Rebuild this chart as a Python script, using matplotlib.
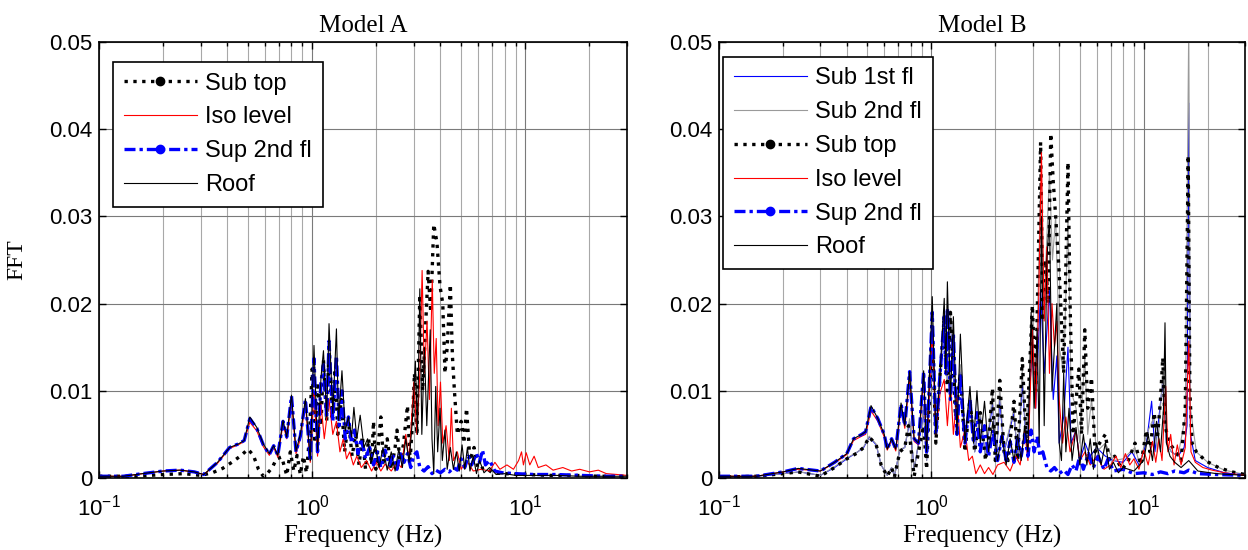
import numpy as np
import matplotlib.pyplot as plt
from matplotlib.lines import Line2D

# ---------------- Model A ----------------
freq_a_subtop = [0.1, 0.15, 0.2, 0.25, 0.3, 0.34, 0.38, 0.42, 0.46, 0.5,
                 0.53, 0.56, 0.59, 0.62, 0.65, 0.68, 0.72, 0.76, 0.79, 0.82,
                 0.85, 0.88, 0.91, 0.94, 0.97, 1.0, 1.03, 1.06, 1.1, 1.13,
                 1.17, 1.2, 1.24, 1.28, 1.32, 1.37, 1.42, 1.48, 1.54, 1.6,
                 1.66, 1.72, 1.78, 1.84, 1.9, 1.94, 1.99, 2.05, 2.1, 2.16,
                 2.25, 2.35, 2.45, 2.5, 2.58, 2.68, 2.8, 2.88, 2.95, 3.02,
                 3.1, 3.2, 3.3, 3.4, 3.5, 3.6, 3.72, 3.85, 3.98, 4.1,
                 4.2, 4.3, 4.45, 4.55, 4.65, 4.8, 5.0, 5.15, 5.3, 5.5,
                 5.75, 6.0, 6.5, 7.0, 8.0, 10, 13, 17, 22, 30]
fft_a_subtop = [0.0002, 0.0002, 0.0004, 0.0005, 0.0003, 0.0006, 0.0011, 0.0018, 0.0025, 0.0033,
                0.0026, 0.001, 0.0002, 0.0006, 0.0012, 0.0022, 0.0024, 0.0003, 0.003, 0.0008,
                0.0026, 0.0004, 0.0025, 0.0006, 0.0045, 0.0125, 0.004, 0.011, 0.006, 0.0135,
                0.0065, 0.015, 0.007, 0.0125, 0.005, 0.009, 0.003, 0.0065, 0.0025, 0.005,
                0.0015, 0.0048, 0.001, 0.0045, 0.0015, 0.0065, 0.001, 0.0042, 0.007, 0.0018,
                0.0045, 0.001, 0.0035, 0.0055, 0.002, 0.0038, 0.0083, 0.002, 0.006, 0.012,
                0.005, 0.021, 0.01, 0.017, 0.0237, 0.019, 0.0291, 0.027, 0.022, 0.02,
                0.012, 0.015, 0.0222, 0.014, 0.01, 0.005, 0.0065, 0.004, 0.008, 0.002,
                0.0035, 0.001, 0.0012, 0.0006, 0.0005, 0.0004, 0.0003, 0.0003, 0.0002, 0.0002]

freq_a_iso = [0.1, 0.13, 0.16, 0.2, 0.24, 0.28, 0.31, 0.36, 0.41, 0.45,
              0.48, 0.51, 0.55, 0.59, 0.63, 0.66, 0.69, 0.73, 0.76, 0.8,
              0.84, 0.88, 0.93, 0.98, 1.02, 1.06, 1.1, 1.14, 1.2, 1.25,
              1.3, 1.35, 1.4, 1.45, 1.5, 1.56, 1.62, 1.7, 1.8, 1.9,
              2.0, 2.1, 2.2, 2.35, 2.5, 2.62, 2.75, 2.85, 3.0, 3.1,
              3.2, 3.28, 3.36, 3.46, 3.55, 3.66, 3.74, 3.82, 3.9, 4.0,
              4.1, 4.25, 4.4, 4.5, 4.6, 4.8, 5.0, 5.3, 5.7, 6.2,
              6.8, 7.2, 7.6, 8.2, 8.8, 9.3, 9.6, 9.8, 10.1, 10.5,
              11, 11.5, 12.5, 13.5, 15, 16.5, 18, 20, 22, 24,
              27, 30]
fft_a_iso = [0.0002, 0.0002, 0.0005, 0.0008, 0.0009, 0.0007, 0.0004, 0.0017, 0.0034, 0.0038,
             0.0042, 0.0064, 0.0054, 0.0036, 0.0026, 0.0035, 0.0024, 0.0062, 0.0045, 0.0088,
             0.0028, 0.0045, 0.0085, 0.0018, 0.01, 0.0025, 0.0085, 0.0045, 0.009, 0.005,
             0.0065, 0.003, 0.0045, 0.0022, 0.003, 0.0015, 0.0025, 0.0012, 0.002, 0.0008,
             0.0018, 0.0008, 0.0016, 0.0008, 0.0018, 0.0012, 0.005, 0.002, 0.011, 0.005,
             0.012, 0.0238, 0.012, 0.018, 0.009, 0.0227, 0.012, 0.016, 0.006, 0.011,
             0.004, 0.006, 0.002, 0.008, 0.002, 0.003, 0.001, 0.002, 0.0008, 0.001,
             0.0008, 0.0018, 0.001, 0.0015, 0.001, 0.002, 0.003, 0.0015, 0.0029, 0.0015,
             0.0025, 0.0012, 0.0015, 0.0009, 0.0012, 0.0008, 0.001, 0.0007, 0.0009, 0.0005,
             0.0004, 0.0003]

freq_a_sup2 = [0.1, 0.13, 0.16, 0.2, 0.24, 0.28, 0.31, 0.36, 0.41, 0.45,
               0.48, 0.51, 0.55, 0.59, 0.63, 0.66, 0.69, 0.73, 0.76, 0.8,
               0.84, 0.88, 0.93, 0.98, 1.02, 1.06, 1.1, 1.13, 1.17, 1.2,
               1.25, 1.3, 1.34, 1.38, 1.43, 1.48, 1.53, 1.58, 1.64, 1.7,
               1.78, 1.86, 1.94, 2.02, 2.1, 2.2, 2.3, 2.4, 2.5, 2.6,
               2.7, 2.8, 2.9, 3.0, 3.1, 3.2, 3.35, 3.5, 3.65, 3.8,
               4.0, 4.2, 4.4, 4.6, 4.8, 5.0, 5.2, 5.4, 5.6, 5.9,
               6.1, 6.3, 6.5, 6.8, 7.2, 7.8, 9, 11, 14, 18,
               24, 30]
fft_a_sup2 = [0.0002, 0.0002, 0.0005, 0.0008, 0.0009, 0.0007, 0.0004, 0.0018, 0.0035, 0.0039,
              0.0043, 0.0068, 0.0057, 0.0038, 0.0027, 0.0037, 0.0026, 0.0065, 0.0047, 0.0094,
              0.003, 0.0048, 0.009, 0.002, 0.0137, 0.003, 0.011, 0.013, 0.007, 0.0157,
              0.0065, 0.014, 0.006, 0.01, 0.0045, 0.007, 0.004, 0.0055, 0.0028, 0.0045,
              0.0022, 0.0035, 0.0015, 0.003, 0.0012, 0.0032, 0.0015, 0.0025, 0.001, 0.003,
              0.0018, 0.0028, 0.0012, 0.0026, 0.003, 0.0012, 0.0008, 0.0013, 0.0005, 0.0009,
              0.0006, 0.001, 0.0007, 0.0012, 0.0009, 0.0022, 0.0012, 0.0025, 0.0015, 0.0028,
              0.0018, 0.0032, 0.0015, 0.002, 0.0008, 0.0006, 0.0005, 0.0004, 0.0004, 0.0003,
              0.0002, 0.0002]

freq_a_roof = [0.1, 0.13, 0.16, 0.2, 0.24, 0.28, 0.31, 0.36, 0.41, 0.45,
               0.48, 0.51, 0.55, 0.59, 0.63, 0.66, 0.69, 0.73, 0.76, 0.8,
               0.84, 0.88, 0.93, 0.98, 1.02, 1.06, 1.1, 1.13, 1.17, 1.2,
               1.25, 1.3, 1.33, 1.38, 1.43, 1.48, 1.53, 1.57, 1.62, 1.68,
               1.75, 1.82, 1.9, 1.98, 2.06, 2.15, 2.25, 2.35, 2.45, 2.55,
               2.65, 2.75, 2.85, 2.95, 3.05, 3.12, 3.2, 3.27, 3.36, 3.45,
               3.58, 3.65, 3.72, 3.8, 3.88, 3.98, 4.08, 4.2, 4.3, 4.45,
               4.6, 4.75, 4.9, 5.05, 5.2, 5.35, 5.5, 5.7, 5.9, 6.1,
               6.4, 6.8, 7.3, 8, 9, 11, 14, 18, 24, 30]
fft_a_roof = [0.0002, 0.0002, 0.0005, 0.0008, 0.0009, 0.0007, 0.0004, 0.0018, 0.0035, 0.0039,
              0.0043, 0.007, 0.0058, 0.0039, 0.0028, 0.0037, 0.0026, 0.0066, 0.0047, 0.0095,
              0.0031, 0.005, 0.0091, 0.002, 0.0152, 0.0031, 0.0115, 0.0146, 0.007, 0.0177,
              0.0074, 0.0171, 0.0066, 0.0123, 0.0054, 0.007, 0.0047, 0.0081, 0.0045, 0.0072,
              0.0035, 0.0045, 0.0018, 0.0038, 0.0012, 0.0035, 0.0009, 0.003, 0.0008, 0.0033,
              0.0012, 0.0045, 0.0018, 0.0065, 0.0134, 0.005, 0.0217, 0.005, 0.015, 0.006,
              0.017, 0.0045, 0.0005, 0.0105, 0.003, 0.008, 0.002, 0.0055, 0.001, 0.0035,
              0.001, 0.003, 0.0008, 0.0038, 0.001, 0.0035, 0.0008, 0.0025, 0.0005, 0.002,
              0.0006, 0.0012, 0.0004, 0.0005, 0.0003, 0.0003, 0.0003, 0.0002, 0.0002, 0.0002]

# ---------------- Model B ----------------
freq_b_sub1 = [0.1, 0.15, 0.2, 0.24, 0.3, 0.35, 0.4, 0.45, 0.48, 0.51,
               0.55, 0.58, 0.62, 0.65, 0.67, 0.71, 0.75, 0.79, 0.83, 0.87,
               0.92, 0.95, 1.01, 1.05, 1.1, 1.15, 1.19, 1.23, 1.3, 1.37,
               1.44, 1.52, 1.6, 1.7, 1.8, 1.94, 2.02, 2.1, 2.2, 2.45,
               2.55, 2.68, 2.8, 2.99, 3.1, 3.27, 3.4, 3.6, 3.75, 3.9,
               4.0, 4.2, 4.4, 4.55, 4.8, 5.0, 5.3, 5.6, 6.0, 6.6,
               7.2, 8, 8.8, 9.5, 10.3, 10.9, 11.3, 11.8, 12.3, 12.8,
               13.5, 14.5, 15.5, 16.0, 16.3, 16.6, 17.5, 20, 24, 30]
fft_b_sub1 = [0.0001, 0.0002, 0.0005, 0.0007, 0.0003, 0.0012, 0.0022, 0.003, 0.0035, 0.0047,
              0.0038, 0.0015, 0.0003, 0.0012, 0.0002, 0.0032, 0.0035, 0.0065, 0.001, 0.004,
              0.0075, 0.002, 0.0175, 0.005, 0.012, 0.018, 0.011, 0.0185, 0.008, 0.0125,
              0.004, 0.0095, 0.003, 0.007, 0.0025, 0.0085, 0.002, 0.009, 0.003, 0.0075,
              0.002, 0.011, 0.004, 0.015, 0.008, 0.0216, 0.012, 0.0215, 0.009, 0.014,
              0.004, 0.007, 0.015, 0.004, 0.0055, 0.002, 0.004, 0.0025, 0.0035, 0.0025,
              0.002, 0.0018, 0.003, 0.0015, 0.004, 0.0088, 0.003, 0.007, 0.011, 0.004,
              0.003, 0.0025, 0.0035, 0.006, 0.043, 0.005, 0.002, 0.0012, 0.0006, 0.0003]

freq_b_sub2 = [0.1, 0.15, 0.2, 0.24, 0.3, 0.35, 0.4, 0.45, 0.48, 0.51,
               0.55, 0.58, 0.62, 0.65, 0.67, 0.71, 0.75, 0.79, 0.83, 0.87,
               0.92, 0.95, 1.01, 1.05, 1.1, 1.15, 1.19, 1.23, 1.3, 1.37,
               1.44, 1.52, 1.6, 1.7, 1.8, 1.94, 2.02, 2.1, 2.2, 2.45,
               2.55, 2.68, 2.8, 2.99, 3.1, 3.27, 3.4, 3.6, 3.72, 3.85,
               4.0, 4.2, 4.4, 4.55, 4.8, 5.0, 5.28, 5.45, 5.68, 6.0,
               6.6, 7.2, 8, 9.1, 9.6, 10.3, 11.2, 11.6, 12.3, 12.8,
               13.5, 14.5, 15.7, 16.3, 16.6, 17.7, 20, 24, 30]
fft_b_sub2 = [0.0001, 0.0002, 0.0005, 0.0007, 0.0003, 0.0013, 0.0023, 0.003, 0.0036, 0.0048,
              0.0039, 0.0015, 0.0003, 0.0012, 0.0002, 0.0033, 0.0035, 0.0068, 0.001, 0.004,
              0.0078, 0.002, 0.018, 0.005, 0.013, 0.0185, 0.011, 0.019, 0.008, 0.013,
              0.004, 0.01, 0.003, 0.0075, 0.0025, 0.0095, 0.002, 0.0105, 0.003, 0.008,
              0.002, 0.0125, 0.004, 0.018, 0.01, 0.033, 0.02, 0.035, 0.025, 0.03,
              0.015, 0.012, 0.03, 0.01, 0.008, 0.004, 0.014, 0.005, 0.009, 0.003,
              0.004, 0.002, 0.0022, 0.0035, 0.0015, 0.005, 0.007, 0.003, 0.012, 0.004,
              0.003, 0.0025, 0.007, 0.052, 0.008, 0.003, 0.0018, 0.0009, 0.0004]

freq_b_subtop = [0.1, 0.15, 0.2, 0.236, 0.3, 0.35, 0.4, 0.45, 0.48, 0.51,
                 0.55, 0.58, 0.62, 0.65, 0.67, 0.71, 0.75, 0.78, 0.83, 0.87,
                 0.92, 0.95, 1.01, 1.05, 1.1, 1.15, 1.19, 1.23, 1.3, 1.37,
                 1.44, 1.52, 1.6, 1.7, 1.8, 1.87, 1.94, 2.0, 2.1, 2.2,
                 2.3, 2.45, 2.55, 2.68, 2.8, 2.99, 3.1, 3.27, 3.35, 3.45,
                 3.55, 3.65, 3.75, 3.85, 3.99, 4.1, 4.2, 4.4, 4.5, 4.65,
                 4.95, 5.1, 5.28, 5.45, 5.68, 5.9, 6.2, 6.6, 6.9, 7.3,
                 7.9, 8.4, 9.1, 9.7, 10.3, 10.7, 11.2, 11.6, 12.0, 12.3,
                 12.6, 13.2, 14.2, 15.0, 15.7, 16.2, 16.5, 16.9, 17.7, 19.5,
                 22.5, 26, 30]
fft_b_subtop = [0.0001, 0.0002, 0.0005, 0.0007, 0.0002, 0.0012, 0.0022, 0.0029, 0.0035, 0.0047,
                0.0038, 0.0015, 0.0002, 0.0012, 0.0001, 0.003, 0.0035, 0.006, 0.0002, 0.003,
                0.006, 0.001, 0.017, 0.004, 0.012, 0.018, 0.01, 0.019, 0.007, 0.012,
                0.003, 0.009, 0.003, 0.0075, 0.002, 0.005, 0.0103, 0.002, 0.0112, 0.003,
                0.002, 0.0088, 0.002, 0.0137, 0.004, 0.0198, 0.01, 0.0385, 0.018, 0.025,
                0.02, 0.0395, 0.034, 0.03, 0.024, 0.018, 0.012, 0.0362, 0.02, 0.005,
                0.0125, 0.005, 0.017, 0.008, 0.0115, 0.003, 0.004, 0.005, 0.002, 0.0025,
                0.001, 0.0018, 0.004, 0.0015, 0.0055, 0.003, 0.0075, 0.0045, 0.009, 0.0138,
                0.006, 0.004, 0.003, 0.002, 0.008, 0.037, 0.01, 0.004, 0.003, 0.002,
                0.0012, 0.0007, 0.0004]

freq_b_iso = [0.1, 0.15, 0.2, 0.236, 0.3, 0.35, 0.4, 0.43, 0.47, 0.49,
              0.52, 0.56, 0.6, 0.62, 0.65, 0.68, 0.72, 0.75, 0.79, 0.83,
              0.87, 0.92, 0.95, 1.01, 1.05, 1.1, 1.15, 1.19, 1.23, 1.27,
              1.32, 1.37, 1.44, 1.5, 1.56, 1.62, 1.7, 1.78, 1.86, 1.95,
              2.05, 2.2, 2.35, 2.5, 2.62, 2.75, 2.85, 2.99, 3.1, 3.2,
              3.3, 3.4, 3.5, 3.6, 3.7, 3.8, 3.9, 4.0, 4.15, 4.3,
              4.5, 4.8, 5.0, 5.3, 5.6, 6.0, 6.5, 7.0, 7.4, 7.8,
              8.2, 8.6, 9.0, 9.5, 10.0, 10.5, 11.0, 11.4, 11.8, 12.2,
              12.7, 13.0, 13.4, 13.9, 14.4, 15.0, 15.7, 16.3, 16.7, 17.5,
              19, 21, 24, 30]
fft_b_iso = [0.0002, 0.0002, 0.0007, 0.001, 0.0008, 0.0017, 0.0027, 0.0043, 0.0048, 0.005,
             0.0077, 0.0065, 0.0047, 0.0032, 0.0043, 0.0031, 0.008, 0.0057, 0.0115, 0.0042,
             0.0038, 0.0115, 0.003, 0.017, 0.005, 0.0098, 0.0113, 0.006, 0.011, 0.005,
             0.0095, 0.0035, 0.0055, 0.002, 0.0025, 0.0005, 0.0015, 0.0005, 0.0012, 0.0004,
             0.0015, 0.0018, 0.0008, 0.0025, 0.0015, 0.0055, 0.002, 0.017, 0.008, 0.02,
             0.0373, 0.018, 0.0265, 0.012, 0.02, 0.015, 0.018, 0.009, 0.004, 0.007,
             0.003, 0.0055, 0.002, 0.003, 0.0015, 0.0025, 0.001, 0.0015, 0.0025, 0.0012,
             0.0028, 0.0015, 0.0022, 0.001, 0.0032, 0.0015, 0.0042, 0.0018, 0.0045, 0.002,
             0.0105, 0.003, 0.005, 0.0015, 0.0038, 0.0015, 0.0035, 0.0157, 0.003, 0.0018,
             0.0012, 0.0009, 0.0006, 0.0003]

freq_b_sup2 = [0.1, 0.15, 0.2, 0.236, 0.3, 0.35, 0.4, 0.43, 0.47, 0.49,
               0.52, 0.56, 0.6, 0.62, 0.65, 0.68, 0.72, 0.75, 0.79, 0.83,
               0.87, 0.92, 0.95, 1.01, 1.05, 1.1, 1.15, 1.17, 1.19, 1.23,
               1.27, 1.32, 1.37, 1.44, 1.52, 1.58, 1.64, 1.7, 1.78, 1.86,
               1.95, 2.05, 2.15, 2.25, 2.35, 2.45, 2.55, 2.65, 2.75, 2.85,
               2.95, 3.05, 3.15, 3.25, 3.35, 3.5, 3.65, 3.8, 4.0, 4.2,
               4.4, 4.6, 4.8, 5.0, 5.2, 5.5, 5.8, 6.1, 6.5, 6.8,
               7.2, 8, 9, 10, 11, 12, 13, 14, 15.5, 16.3,
               18, 22, 30]
fft_b_sup2 = [0.0002, 0.0002, 0.0007, 0.0011, 0.0008, 0.0018, 0.0028, 0.0045, 0.005, 0.0053,
              0.0082, 0.0068, 0.005, 0.0033, 0.0045, 0.0033, 0.0085, 0.006, 0.0122, 0.0045,
              0.004, 0.0122, 0.003, 0.019, 0.005, 0.012, 0.0185, 0.012, 0.0195, 0.009,
              0.0165, 0.005, 0.012, 0.004, 0.009, 0.004, 0.0075, 0.003, 0.006, 0.0025,
              0.0055, 0.002, 0.0048, 0.002, 0.0042, 0.0018, 0.0045, 0.0025, 0.005, 0.0025,
              0.0055, 0.003, 0.0048, 0.0025, 0.003, 0.0012, 0.0008, 0.0012, 0.0005, 0.0009,
              0.0004, 0.0015, 0.0008, 0.0025, 0.001, 0.0028, 0.0012, 0.0025, 0.001, 0.0022,
              0.0008, 0.001, 0.0005, 0.0006, 0.0004, 0.0007, 0.0005, 0.0008, 0.0006, 0.0009,
              0.0005, 0.0004, 0.0003]

freq_b_roof = [0.1, 0.15, 0.2, 0.236, 0.3, 0.35, 0.4, 0.43, 0.47, 0.49,
               0.52, 0.56, 0.6, 0.62, 0.65, 0.68, 0.72, 0.75, 0.79, 0.83,
               0.87, 0.92, 0.95, 1.01, 1.05, 1.1, 1.15, 1.17, 1.19, 1.23,
               1.27, 1.32, 1.37, 1.44, 1.52, 1.58, 1.64, 1.7, 1.78, 1.86,
               1.95, 2.05, 2.15, 2.25, 2.35, 2.45, 2.55, 2.65, 2.75, 2.85,
               2.95, 3.05, 3.15, 3.22, 3.3, 3.4, 3.5, 3.6, 3.7, 3.8,
               3.9, 4.0, 4.1, 4.2, 4.3, 4.45, 4.6, 4.8, 5.0, 5.2,
               5.4, 5.6, 5.8, 6.0, 6.3, 6.6, 6.9, 7.2, 7.6, 8,
               9, 10, 10.5, 11, 11.5, 12, 12.4, 12.6, 12.8, 13.3,
               14, 15, 16.3, 18, 22, 30]
fft_b_roof = [0.0002, 0.0002, 0.0007, 0.0011, 0.0008, 0.0018, 0.0028, 0.0045, 0.005, 0.0053,
              0.0083, 0.0068, 0.005, 0.0033, 0.0045, 0.0033, 0.0086, 0.006, 0.0122, 0.0045,
              0.004, 0.0123, 0.003, 0.0208, 0.005, 0.012, 0.0206, 0.012, 0.0225, 0.009,
              0.0185, 0.005, 0.0165, 0.004, 0.0105, 0.004, 0.01, 0.004, 0.0088, 0.003,
              0.0065, 0.002, 0.005, 0.0015, 0.0045, 0.002, 0.005, 0.002, 0.006, 0.003,
              0.019, 0.008, 0.017, 0.004, 0.03, 0.006, 0.025, 0.03, 0.01, 0.015,
              0.02, 0.004, 0.002, 0.012, 0.003, 0.008, 0.002, 0.0058, 0.0015, 0.005,
              0.0015, 0.0045, 0.001, 0.004, 0.0015, 0.004, 0.001, 0.0018, 0.0006, 0.0012,
              0.0008, 0.002, 0.005, 0.002, 0.0065, 0.003, 0.008, 0.0178, 0.004, 0.0025,
              0.0018, 0.0012, 0.002, 0.0008, 0.0005, 0.0003]

ytick_vals = [0, 0.01, 0.02, 0.03, 0.04, 0.05]
ytick_labels = ['0', '0.01', '0.02', '0.03', '0.04', '0.05']

plt.rcParams['font.family'] = ['Liberation Sans', 'DejaVu Sans']
plt.rcParams['mathtext.default'] = 'regular'
SERIF = ['Liberation Serif', 'DejaVu Serif']

# line styles
DASHDOT = (0, (3.3, 1.2, 1.0, 1.2))
styles = {
    'Sub 1st fl': dict(color='#0000ff', lw=0.8, ls='-'),
    'Sub 2nd fl': dict(color='#9a9a9a', lw=0.8, ls='-'),
    'Sub top': dict(color='black', lw=2.4, ls=':'),
    'Iso level': dict(color='#ff0000', lw=0.8, ls='-'),
    'Sup 2nd fl': dict(color='#0000ff', lw=2.4, ls=DASHDOT),
    'Roof': dict(color='black', lw=0.8, ls='-'),
}
with_marker = {'Sub top', 'Sup 2nd fl'}


def style_axes(ax, title):
    ax.set_xscale('log')
    ax.set_xlim(0.1, 30)
    ax.set_ylim(0, 0.05)
    ax.set_yticks(ytick_vals)
    ax.set_yticklabels(ytick_labels)
    ax.set_axisbelow(True)
    ax.grid(True, which='major', color='#7a7a7a', lw=0.8)
    ax.grid(True, which='minor', axis='x', color='#a8a8a8', lw=0.8)
    ax.tick_params(which='both', direction='in', top=True, right=True,
                   labelsize=16, width=1)
    ax.tick_params(which='major', length=5, pad=5)
    ax.tick_params(which='minor', length=3)
    ax.tick_params(axis='x', which='major', pad=12)
    for s in ax.spines.values():
        s.set_linewidth(1.2)
    ax.set_title(title, family=SERIF, fontsize=18, pad=7)
    ax.set_xlabel('Frequency (Hz)', family=SERIF, fontsize=18, labelpad=3)


def add_legend(ax, names, anchor):
    handles = []
    for n in names:
        st = styles[n]
        h = Line2D([], [], color=st['color'], lw=st['lw'], ls=st['ls'],
                   marker='o' if n in with_marker else None, markersize=6)
        handles.append(h)
    leg = ax.legend(handles, names, loc='upper left', bbox_to_anchor=anchor,
                    fontsize=17, frameon=True, fancybox=False, framealpha=1,
                    edgecolor='black', handlelength=3.1, handletextpad=0.35,
                    labelspacing=0.5, borderpad=0.45, borderaxespad=0)
    leg.get_frame().set_linewidth(1.2)


fig = plt.figure(figsize=(12.48, 5.5), dpi=100)
ax_a = fig.add_axes([99 / 1248, 1 - 478 / 550, 528 / 1248, 436 / 550])
ax_b = fig.add_axes([719 / 1248, 1 - 478 / 550, 526 / 1248, 436 / 550])

series_a = [('Sub top', freq_a_subtop, fft_a_subtop),
            ('Iso level', freq_a_iso, fft_a_iso),
            ('Sup 2nd fl', freq_a_sup2, fft_a_sup2),
            ('Roof', freq_a_roof, fft_a_roof)]
series_b = [('Sub 1st fl', freq_b_sub1, fft_b_sub1),
            ('Sub 2nd fl', freq_b_sub2, fft_b_sub2),
            ('Sub top', freq_b_subtop, fft_b_subtop),
            ('Iso level', freq_b_iso, fft_b_iso),
            ('Sup 2nd fl', freq_b_sup2, fft_b_sup2),
            ('Roof', freq_b_roof, fft_b_roof)]

for name, f, v in series_a:
    ax_a.plot(f, v, **styles[name])
for name, f, v in series_b:
    ax_b.plot(f, v, **styles[name])

style_axes(ax_a, 'Model A')
style_axes(ax_b, 'Model B')
ax_a.set_ylabel('FFT', family=SERIF, fontsize=17, labelpad=15)

add_legend(ax_a, [s[0] for s in series_a], (0.027, 0.954))
add_legend(ax_b, [s[0] for s in series_b], (0.008, 0.966))

fig.savefig('out.png', dpi=100)
